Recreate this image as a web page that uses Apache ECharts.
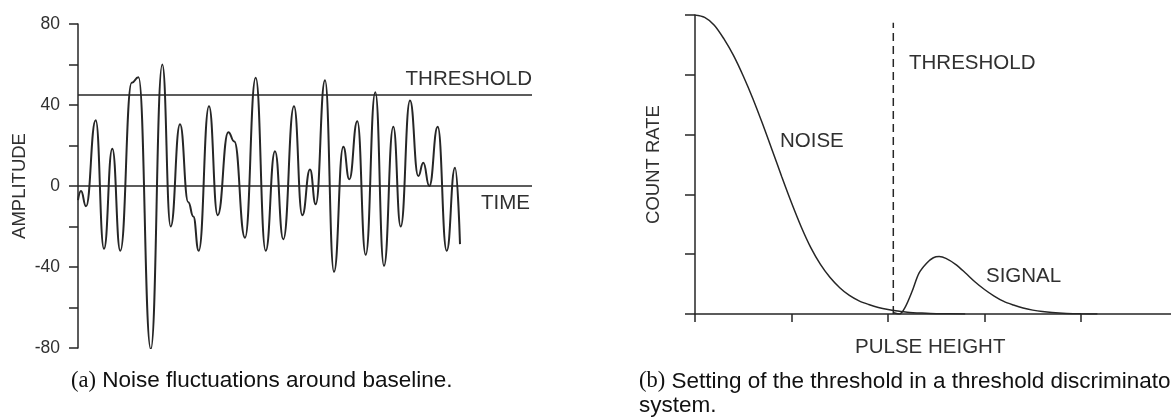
<!DOCTYPE html>
<html>
<head>
<meta charset="utf-8">
<script src="https://cdn.jsdelivr.net/npm/echarts@6/dist/echarts.min.js"></script>
<style>
html,body{margin:0;padding:0;background:#fff;}
#chart{width:1171px;height:417px;}
</style>
</head>
<body>
<div id="chart"></div>
<script>
// ---- (a) noise waveform: time index and amplitude at each turning point ----
var waveTime = [0, 3, 8, 17.7, 26, 34.3, 42.3, 53.7, 60.5, 72.8, 84.3, 92.7, 102, 110.3, 115.3, 120.7,
  131, 139.7, 150.3, 156.3, 167, 177.7, 187.7, 197, 205.3, 216, 224.3, 232, 237.7, 247, 256,
  265.3, 271.3, 279.3, 287.7, 297.3, 306, 315.3, 322.7, 332, 340.3, 345.3, 351.3, 359.7, 368.7, 377, 382];
var waveAmp = [-7, -2.5, -10, 32.5, -31, 18.4, -32, 51, 53.7, -80.5, 60, -20, 30.5, -8, -15, -32,
  39.4, -14.4, 26.6, 22, -25.5, 53.4, -32, 17.2, -26.3, 39.4, -14.4, 8.2, -9, 52.2, -42.4,
  19.4, 3.3, 32, -34, 46.3, -39.4, 29.2, -20, 42.2, 4.9, 11.5, 0, 29.2, -32, 9, -28.7];
var thresholdLevel = 45;
var baselineLevel = 0;
var timeMax = 454;
var ampTicks = [-80, -40, 0, 40, 80];

// ---- (b) pulse height spectrum ----
var noiseX = [0, 0.1, 0.2, 0.3, 0.4, 0.5, 0.6, 0.7, 0.8, 0.9, 1.0, 1.1, 1.2, 1.3, 1.4, 1.5, 1.6, 1.7, 1.8, 1.9, 2.0, 2.1, 2.2, 2.35, 2.5, 2.8];
var noiseY = [5.0, 4.96, 4.83, 4.6, 4.32, 3.98, 3.6, 3.18, 2.74, 2.29, 1.86, 1.46, 1.11, 0.83, 0.61, 0.44, 0.31, 0.22, 0.16, 0.11, 0.075, 0.05, 0.03, 0.015, 0.005, 0];
var signalX = [2.06, 2.12, 2.18, 2.25, 2.32, 2.4, 2.47, 2.53, 2.6, 2.7, 2.8, 2.9, 3.0, 3.1, 3.2, 3.3, 3.4, 3.5, 3.6, 3.7, 3.85, 4.0, 4.17];
var signalY = [0.02, 0.0, 0.12, 0.38, 0.68, 0.85, 0.94, 0.96, 0.93, 0.83, 0.69, 0.54, 0.41, 0.3, 0.21, 0.15, 0.1, 0.065, 0.04, 0.024, 0.01, 0.003, 0];
var discriminatorLevel = 2.055;
var discriminatorTop = 4.87;

function pairs(xs, ys) { return xs.map(function (x, i) { return [x, ys[i]]; }); }

var INK = '#262626';
var TXT = '#303030';
var SANS = 'Liberation Sans, Arial, sans-serif';
var SERIF = 'Liberation Serif, Times New Roman, serif';

var chart = echarts.init(document.getElementById('chart'), null, {renderer: 'canvas'});
chart.setOption({
  animation: false,
  backgroundColor: '#ffffff',
  textStyle: {fontFamily: SANS},
  grid: [
    {left: 78, top: 24, width: 454, height: 324, outerBoundsMode: 'none', containLabel: false},
    {left: 695, top: 15, width: 482.5, height: 299, outerBoundsMode: 'none', containLabel: false}
  ],
  xAxis: [
    {gridIndex: 0, type: 'value', min: 0, max: timeMax, show: false},
    {gridIndex: 1, type: 'value', min: 0, max: 5, interval: 1,
      axisLine: {show: true, lineStyle: {color: INK, width: 1.5}},
      axisTick: {show: true, length: 8, lineStyle: {color: INK, width: 1.5}},
      axisLabel: {show: false}, splitLine: {show: false},
      name: 'PULSE HEIGHT', nameLocation: 'middle', nameGap: 23,
      nameTextStyle: {fontSize: 20.5, color: TXT, fontFamily: SANS, padding: [0, 12, 0, 0]}}
  ],
  yAxis: [
    {gridIndex: 0, type: 'value', min: -80, max: 80, interval: 20,
      axisLine: {show: true, lineStyle: {color: INK, width: 1.5}},
      axisTick: {show: true, length: 9, lineStyle: {color: INK, width: 1.5}},
      axisLabel: {margin: 18, fontSize: 17.5, color: TXT, fontFamily: SANS,
        formatter: function (v) { return ampTicks.indexOf(v) >= 0 ? String(v) : ''; }},
      splitLine: {show: false},
      name: 'AMPLITUDE', nameLocation: 'middle', nameGap: 49, nameRotate: 90,
      nameTextStyle: {fontSize: 18.5, color: TXT, fontFamily: SANS}},
    {gridIndex: 1, type: 'value', min: 0, max: 5, interval: 1,
      axisLine: {show: true, lineStyle: {color: INK, width: 1.5}},
      axisTick: {show: true, length: 10, lineStyle: {color: INK, width: 1.5}},
      axisLabel: {show: false}, splitLine: {show: false},
      name: 'COUNT RATE', nameLocation: 'middle', nameGap: 32, nameRotate: 90,
      nameTextStyle: {fontSize: 18.5, color: TXT, fontFamily: SANS}}
  ],
  series: [
    {type: 'line', xAxisIndex: 0, yAxisIndex: 0, data: pairs(waveTime, waveAmp),
      smooth: 0.5, smoothMonotone: 'x', showSymbol: false, symbol: 'none',
      lineStyle: {color: INK, width: 2},
      markLine: {silent: true, symbol: 'none', animation: false,
        lineStyle: {color: INK, width: 1.5, type: 'solid'},
        label: {fontSize: 20.5, color: TXT, fontFamily: SANS},
        data: [
          {yAxis: thresholdLevel, label: {formatter: 'THRESHOLD', position: 'insideEndTop', distance: [0, 5]}},
          {yAxis: baselineLevel, label: {formatter: 'TIME', position: 'insideEndBottom', distance: [2, 7]}}
        ]}},
    {type: 'line', xAxisIndex: 1, yAxisIndex: 1, data: pairs(noiseX, noiseY),
      smooth: 0.3, showSymbol: false, symbol: 'none', lineStyle: {color: INK, width: 1.5}},
    {type: 'line', xAxisIndex: 1, yAxisIndex: 1, data: pairs(signalX, signalY),
      smooth: 0.3, showSymbol: false, symbol: 'none', lineStyle: {color: INK, width: 1.5}},
    {type: 'line', xAxisIndex: 1, yAxisIndex: 1,
      data: [[discriminatorLevel, 0], [discriminatorLevel, discriminatorTop]],
      showSymbol: false, symbol: 'none', lineStyle: {color: INK, width: 1.5, type: [8, 5]}}
  ],
  graphic: [
    {type: 'text', x: 909, y: 63.5, silent: true,
      style: {text: 'THRESHOLD', fill: TXT, fontSize: 20.5, fontFamily: SANS, align: 'left', verticalAlign: 'middle'}},
    {type: 'text', x: 780, y: 141, silent: true,
      style: {text: 'NOISE', fill: TXT, fontSize: 20.5, fontFamily: SANS, align: 'left', verticalAlign: 'middle'}},
    {type: 'text', x: 986, y: 276.5, silent: true,
      style: {text: 'SIGNAL', fill: TXT, fontSize: 20.5, fontFamily: SANS, align: 'left', verticalAlign: 'middle'}},
    {type: 'text', x: 71, y: 381, silent: true,
      style: {text: '{s|(a)} Noise fluctuations around baseline.', fill: '#111', fontSize: 22.5, fontFamily: SANS,
        align: 'left', verticalAlign: 'middle',
        rich: {s: {fontFamily: SERIF, fontSize: 22.5, fill: '#111'}}}},
    {type: 'text', x: 639, y: 381.5, silent: true,
      style: {text: '{s|(b)} Setting of the threshold in a threshold discriminator', fill: '#111', fontSize: 22.5, fontFamily: SANS,
        align: 'left', verticalAlign: 'middle',
        rich: {s: {fontFamily: SERIF, fontSize: 22.5, fill: '#111'}}}},
    {type: 'text', x: 639, y: 406, silent: true,
      style: {text: 'system.', fill: '#111', fontSize: 22.5, fontFamily: SANS, align: 'left', verticalAlign: 'middle'}}
  ]
});
</script>
</body>
</html>
